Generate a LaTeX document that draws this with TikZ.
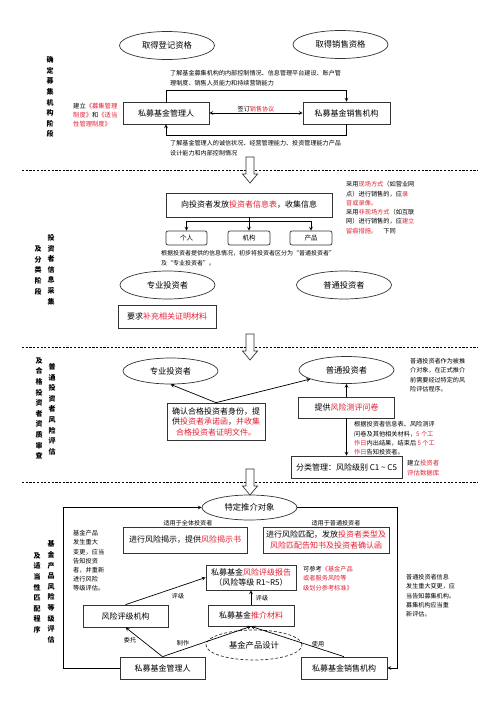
\documentclass[tikz,border=0pt]{standalone}
\usepackage{fontspec}
\setmainfont{Noto Sans CJK SC}
\usepackage{xcolor}
\usetikzlibrary{shapes.geometric, arrows, positioning, calc}

\definecolor{hlred}{RGB}{226,32,52}
\newcommand{\redtxt}[1]{\textcolor{hlred}{#1}}

\begin{document}
\begin{tikzpicture}[
    x=1pt, y=-1pt,
    box/.style={rectangle, draw=black!80, line width=0.7pt, inner sep=1pt, text centered, align=center, font=\fontsize{8}{10.5}\selectfont},
    oval/.style={ellipse, draw=black!80, line width=0.7pt, minimum width=95pt, minimum height=28pt, inner sep=0pt, font=\fontsize{8.3}{10}\selectfont},
    note/.style={anchor=north west, inner sep=0pt, align=left, font=\fontsize{6.1}{9.3}\selectfont},
    tag/.style={inner sep=1pt, font=\fontsize{6.1}{7}\selectfont},
    stage/.style={anchor=north, inner sep=0pt, align=center, font=\fontsize{7}{10.6}\selectfont\bfseries},
    arrow/.style={line width=0.7pt,->,>=stealth},
    sep/.style={line width=0.8pt, dash pattern=on 2.2pt off 1.5pt},
    hollow/.style={draw=black!80, line width=0.7pt, fill=white}
]
\useasboundingbox (0,0) rectangle (500,707);

% Stage separators
\foreach \y in {170,347,482} {
  \draw[sep] (22,\y) -- (478,\y);
  \draw[hollow] (246,\y-13) -- (254,\y-13) -- (254,\y+4) -- (257.5,\y+4) -- (250,\y+13) -- (242.5,\y+4) -- (246,\y+4) -- cycle;
}

% Stage labels
\node[stage] (stage1) at (50,56.5) {确\\定\\募\\集\\机\\构\\阶\\段};
\node[stage] (stage2a) at (51,234.3) {投\\资\\者\\信\\息\\采\\集};
\node[stage] (stage2b) at (38,245.8) {及\\分\\类\\阶\\段};
\node[stage] (stage3a) at (52,363.2) {普\\通\\投\\资\\者\\风\\险\\评\\估};
\node[stage] (stage3b) at (39,357.5) {及\\合\\格\\投\\资\\者\\资\\质\\审\\查};
\node[stage] (stage4a) at (51,540.8) {基\\金\\产\\品\\风\\险\\等\\级\\评\\估};
\node[stage] (stage4b) at (37,552.5) {及\\适\\当\\性\\匹\\配\\程\\序};

% Qualification
\node[oval] (reg) at (167,45.5) {取得登记资格};
\node[oval] (sale) at (340.5,44.5) {取得销售资格};

% Manager and seller
\node[box, minimum width=86pt, minimum height=22pt] (mgr) at (166,113) {私募基金管理人};
\node[box, minimum width=87pt, minimum height=22pt] (sel) at (346.5,113) {私募基金销售机构};

% Investor information
\node[box, minimum width=166pt, minimum height=24pt] (info) at (249,205) {向投资者发放\redtxt{投资者信息表}，收集信息};
\node[box, rounded corners=2pt, minimum width=41pt, minimum height=14pt, font=\fontsize{6.5}{8}\selectfont] (person) at (186.5,238) {个人};
\node[box, rounded corners=2pt, minimum width=42pt, minimum height=14pt, font=\fontsize{6.5}{8}\selectfont] (org) at (249,238) {机构};
\node[box, rounded corners=2pt, minimum width=42pt, minimum height=14pt, font=\fontsize{6.5}{8}\selectfont] (prod) at (311,238) {产品};

% Investor classes
\node[oval] (pro) at (167.5,285) {专业投资者};
\node[oval] (ord) at (344,285) {普通投资者};
\node[box, minimum width=98pt, minimum height=23pt] (proof) at (167,316.5) {要求\redtxt{补充相关证明材料}};

% Qualification check and risk survey
\node[oval, minimum height=26pt] (pro2) at (170.5,371) {专业投资者};
\node[oval, minimum height=27pt] (ord2) at (346.5,370) {普通投资者};
\node[box, minimum width=98pt, minimum height=37pt] (confirm) at (216,421.5) {确认合格投资者身份，提\\供\redtxt{投资者承诺函}，\redtxt{并收集}\\\redtxt{合格投资者证明文件。}};
\node[box, minimum width=96pt, minimum height=21pt] (survey) at (346.5,407.5) {提供\redtxt{风险测评问卷}};
\node[box, minimum width=111pt, minimum height=22pt] (grade) at (346.5,467) {分类管理：风险级别 C1 \textasciitilde{} C5};

% Product risk rating
\node[oval, minimum height=25pt] (target) at (249.5,507.5) {特定推介对象};
\node[box, minimum width=124pt, minimum height=26pt] (warn) at (185,540) {进行风险揭示，提供\redtxt{风险揭示书}};
\node[box, minimum width=126pt, minimum height=26pt, font=\fontsize{8}{11.2}\selectfont] (match) at (326,540) {进行风险匹配，发放\redtxt{投资者类型及}\\\redtxt{风险匹配告知书及投资者确认函}};
\node[box, minimum width=90pt, minimum height=25pt, font=\fontsize{8}{10}\selectfont] (report) at (251,577.5) {私募基金\redtxt{风险评级报告}\\（风险等级 R1\textasciitilde R5）};
\node[box, minimum width=85pt, minimum height=22pt] (agency) at (125.5,616) {风险评级机构};
\node[box, minimum width=86pt, minimum height=21pt] (material) at (251,615.5) {私募基金\redtxt{推介材料}};
\node[oval, dash pattern=on 3pt off 2pt, minimum width=96pt, minimum height=30pt] (design) at (254,645) {基金产品设计};
\node[box, minimum width=85pt, minimum height=22pt] (mgr2) at (162.5,668) {私募基金管理人};
\node[box, minimum width=86pt, minimum height=22pt] (sel2) at (344,668) {私募基金销售机构};

% Arrows
\draw[arrow] (mgr.north) -- ++(0,-11) -| (sel.north);
\draw[arrow] (sel.south) -- ++(0,11) -| (mgr.south);
\draw[arrow, <->] (mgr.east) -- (sel.west);
\path (info.south) ++(0,4) coordinate (split);
\draw[arrow] (info.south) -- (org.north);
\draw[arrow] (split) -| (person.north);
\draw[arrow] (split) -| (prod.north);
\draw[arrow] (confirm.north) -- (pro2.south);
\draw[arrow] (confirm.north) -- (ord2);
\draw[arrow] (survey.north) -- (ord2.south);
\draw[arrow] (survey.south) -- (grade.north);
\draw[arrow] (mgr2.west) -- ++(-56,0) |- (target.west);
\draw[arrow] (target.east) -- ++(100,0) |- (sel2.east);
\draw[arrow] (agency.north) -- (report.west);
\draw[arrow] (material.north) -- (report.south);
\draw[arrow] (mgr2.north) -- (agency.south);
\draw[arrow] (mgr2.north) -- (material.south);
\draw[arrow] (sel2.north) -- (material.south);

% Labels
\node[tag, above] (signlbl) at ($(mgr.east)!0.5!(sel.west)$) {签订\redtxt{销售协议}};
\node[tag] (alllbl) at (188,523) {适用于全体投资者};
\node[tag] (ordlbl) at (336,523) {适用于普通投资者};
\node[tag] (rate1) at (178,596) {评级};
\node[tag] (rate2) at (262,598) {评级};
\node[tag] (entrust) at (130,640) {委托};
\node[tag] (make) at (183,643) {制作};
\node[tag] (use) at (318,644) {使用};

% Notes
\node[note, font=\fontsize{6.1}{10}\selectfont] (selnote) at (170,70) {了解基金募集机构的内部控制情况、信息管理平台建设、账户管\\理制度、销售人员能力和持续营销能力};
\node[note, font=\fontsize{6.1}{10}\selectfont] (mgrnote) at (170,140.5) {了解基金管理人的诚信状况、经营管理能力、投资管理能力产品\\设计能力和内部控制情况};
\node[note, font=\fontsize{6.3}{9}\selectfont] (rulenote) at (73,103.2) {建立\redtxt{《募集管理}\\\redtxt{制度》}和\redtxt{《适当}\\\redtxt{性管理制度》}};
\node[note, font=\fontsize{6.2}{9.3}\selectfont] (sitenote) at (346,181.2) {采用\redtxt{现场方式}（如营业网\\点）进行销售的，应\redtxt{录}\\\redtxt{音或录像。}\\采用\redtxt{非现场方式}（如互联\\网）进行销售的，应\redtxt{建立}\\\redtxt{留痕措施。}\quad 下同};
\node[note, font=\fontsize{6}{10}\selectfont] (sortnote) at (161,250.3) {根据投资者提供的信息情况，初步将投资者区分为“普通投资者”\\及“专业投资者”。};
\node[note] (ordnote) at (410,358.2) {普通投资者作为被推\\介对象，在正式推介\\前需要经过特定的风\\险评估程序。};
\node[note, font=\fontsize{6.2}{9.4}\selectfont] (evalnote) at (354,421.2) {根据投资者信息表、风险测评\\问卷及其他相关材料，\redtxt{5 个工}\\\redtxt{作日}内出结果，结束后 \redtxt{5 个工}\\\redtxt{作日}告知投资者。};
\node[note, font=\fontsize{6.4}{9.3}\selectfont] (dbnote) at (407,460.2) {建立\redtxt{投资者}\\\redtxt{评估数据库}};
\node[note, font=\fontsize{6.2}{9.2}\selectfont] (refnote) at (303,566.2) {可参考\redtxt{《基金产品}\\\redtxt{或者服务风险等}\\\redtxt{级划分参考标准》}};
\node[note, font=\fontsize{6.2}{9.2}\selectfont] (prodnote) at (73,530.2) {基金产品\\发生重大\\变更，应当\\告知投资\\者，并重新\\进行风险\\等级评估。};
\node[note] (infonote) at (406,574.2) {普通投资者信息\\发生重大变更，应\\当告知募集机构。\\募集机构应当重\\新评估。};

\end{tikzpicture}
\end{document}
